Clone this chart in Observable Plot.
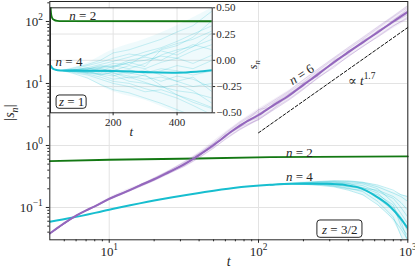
<!DOCTYPE html>
<html><head><meta charset="utf-8">
<script src="https://cdn.jsdelivr.net/npm/d3@7"></script>
<script src="https://cdn.jsdelivr.net/npm/@observablehq/plot@0.6"></script>
<style>
html,body{margin:0;padding:0;background:#fff;}
#wrap{position:relative;width:415px;height:270px;}
#wrap svg{position:absolute;left:0;top:0;}
</style></head><body><div id="wrap"></div>
<script>
// ---------- main panel data (z = 3/2) ----------
const n2T = [4, 10, 39, 120, 1000];
const n2V = [0.558, 0.588, 0.617, 0.648, 0.665];

const n4T = [4, 5.6, 10, 20, 39, 68, 120, 164, 289, 459, 625, 769, 897, 1000];
const n4V = [0.059, 0.068, 0.092, 0.13, 0.17, 0.207, 0.232, 0.241, 0.241, 0.213, 0.147, 0.101, 0.066, 0.046];

const n6T = [4,5,6,7,8,10,13,16,20,25,30,37,45,55,65,80,100,125,160,200,250,320,400,500,630,800,1000];
const n6V = [0.038,0.056,0.074,0.09,0.104,0.138,0.18,0.225,0.285,0.37,0.46,0.62,0.85,1.2,1.65,2.3,3.1,4.4,6.4,9.5,14,22,32,46,67,100,143];

// individual n=6 runs
const n6RunT = [4,6,8,10,13,16,20,25,32,40,50,60,75,100,125,160,200,250,320,400,500,630,800,1000];
const n6Runs = [
  [0.038,0.075,0.106,0.141,0.186,0.232,0.30,0.39,0.53,0.76,1.1,1.55,2.3,3.5,4.9,7.3,10.5,16,25,36,52,78,118,170],
  [0.038,0.073,0.102,0.134,0.174,0.215,0.27,0.35,0.47,0.64,0.92,1.25,1.8,2.7,3.9,5.6,8.3,12.2,19,27,40,56,84,118],
  [0.038,0.074,0.105,0.14,0.178,0.23,0.28,0.38,0.48,0.72,0.95,1.5,2.0,3.8,4.2,6.0,10.2,13,24,30,50,64,108,150],
  [0.038,0.074,0.103,0.136,0.183,0.22,0.29,0.36,0.52,0.67,1.05,1.35,2.2,2.8,4.7,6.9,9.0,15,21,34,44,72,95,135],
  [0.038,0.075,0.104,0.139,0.179,0.228,0.287,0.375,0.49,0.73,0.98,1.45,1.95,3.3,4.3,6.2,9.8,13.5,23,31,47,69,104,160],
  [0.038,0.073,0.105,0.137,0.181,0.222,0.283,0.365,0.51,0.68,1.02,1.38,2.15,2.95,4.6,6.6,9.3,14.6,21,33,45,70,97,128],
  [0.038,0.074,0.104,0.138,0.18,0.226,0.29,0.38,0.5,0.7,0.96,1.42,2.1,3.2,4.5,6.2,9.6,14.2,22.5,32,47,66,102,145],
  [0.038,0.074,0.104,0.138,0.18,0.225,0.285,0.37,0.5,0.69,1.0,1.4,2.0,2.6,3.8,6.8,10,15,22,33,48,70,100,138],
  [0.038,0.074,0.105,0.14,0.183,0.23,0.295,0.39,0.55,0.74,1.08,1.6,2.4,3.7,5.2,7.6,11.5,17,26,38,55,82,122,180],
  [0.038,0.073,0.103,0.135,0.176,0.218,0.275,0.355,0.46,0.63,0.9,1.28,1.85,2.6,3.7,5.4,8.0,12.5,18,28,39,58,86,112]
];
// spread envelope of the n=6 runs
const n6BandT = [8, 10, 20, 40, 60, 100, 160, 250, 400, 630, 1000];
const n6BandLo = [0.101, 0.132, 0.27, 0.62, 1.25, 2.5, 5.2, 11.5, 26, 54, 105];
const n6BandHi = [0.107, 0.145, 0.30, 0.78, 1.65, 3.9, 7.8, 17, 38, 82, 180];

// individual n=4 runs
const n4RunT = [120,160,200,250,320,400,500,630,800,900,1000];
const n4Runs = [
  [0.232,0.242,0.25,0.258,0.265,0.262,0.25,0.215,0.17,0.15,0.125],
  [0.232,0.24,0.236,0.228,0.215,0.19,0.16,0.11,0.065,0.045,0.03],
  [0.232,0.243,0.248,0.252,0.248,0.24,0.225,0.18,0.14,0.1,0.07],
  [0.232,0.241,0.24,0.236,0.225,0.205,0.18,0.125,0.07,0.035,0.02],
  [0.232,0.242,0.246,0.255,0.26,0.25,0.24,0.2,0.12,0.08,0.055],
  [0.232,0.24,0.238,0.232,0.235,0.215,0.2,0.14,0.09,0.06,0.028],
  [0.232,0.242,0.25,0.245,0.255,0.245,0.205,0.19,0.15,0.12,0.09],
  [0.232,0.24,0.237,0.24,0.22,0.2,0.19,0.16,0.11,0.05,0.035],
  [0.232,0.243,0.252,0.262,0.27,0.268,0.255,0.23,0.19,0.16,0.15],
  [0.232,0.241,0.243,0.24,0.232,0.222,0.21,0.17,0.1,0.07,0.04]
];
const n4BandT = [150, 250, 400, 630, 800, 1000];
const n4BandLo = [0.238, 0.225, 0.19, 0.11, 0.06, 0.02];
const n4BandHi = [0.245, 0.265, 0.268, 0.225, 0.18, 0.15];

// power-law guide  ∝ t^1.7
const guideT = [100, 1000];
const guideV = [1.6, 80];

// ---------- inset data (z = 1) ----------
const inN2T = [4, 6, 9, 15, 25, 40, 510];
const inN2V = [0.52, 0.44, 0.405, 0.385, 0.376, 0.373, 0.372];
const inN4T = [4, 10, 20, 35, 60, 100, 200, 300, 400, 460, 510];
const inN4V = [-0.05, -0.075, -0.09, -0.097, -0.099, -0.1, -0.102, -0.112, -0.118, -0.11, -0.095];
const inRunT = [40,80,120,160,200,250,300,350,400,450,510];
const inRuns = [
  [-0.097,-0.09,-0.07,-0.04,-0.01,0.03,0.08,0.12,0.18,0.25,0.33],
  [-0.097,-0.11,-0.13,-0.16,-0.2,-0.22,-0.27,-0.31,-0.36,-0.43,-0.52],
  [-0.097,-0.09,-0.08,-0.06,-0.07,-0.02,0.0,0.04,0.02,0.09,0.15],
  [-0.097,-0.105,-0.12,-0.13,-0.12,-0.15,-0.18,-0.16,-0.2,-0.25,-0.22],
  [-0.097,-0.07,-0.04,0.0,0.07,0.1,0.15,0.2,0.27,0.33,0.47],
  [-0.097,-0.13,-0.17,-0.23,-0.28,-0.31,-0.36,-0.41,-0.47,-0.53,-0.6],
  [-0.097,-0.1,-0.09,-0.08,-0.1,-0.05,-0.08,-0.02,0.02,-0.03,0.05],
  [-0.097,-0.1,-0.11,-0.13,-0.15,-0.1,-0.12,-0.08,-0.1,-0.14,-0.1],
  [-0.097,-0.09,-0.1,-0.07,-0.05,-0.08,-0.03,0.05,0.1,0.13,0.2],
  [-0.097,-0.11,-0.12,-0.1,-0.14,-0.2,-0.22,-0.25,-0.29,-0.31,-0.36],
  [-0.097,-0.095,-0.09,-0.12,-0.08,-0.12,-0.15,-0.2,-0.15,-0.18,-0.26],
  [-0.097,-0.09,-0.085,-0.05,-0.06,0.0,0.03,0.0,0.08,0.15,0.1],
  [-0.097,-0.1,-0.12,-0.14,-0.18,-0.16,-0.21,-0.26,-0.23,-0.29,-0.41],
  [-0.097,-0.09,-0.08,-0.07,-0.03,-0.04,0.05,0.09,0.05,0.13,0.26],
  [-0.097,-0.1,-0.11,-0.09,-0.12,-0.17,-0.14,-0.24,-0.33,-0.38,-0.45],
  [-0.097,-0.09,-0.07,-0.1,-0.06,-0.02,-0.06,0.1,0.14,0.22,0.38],
  [-0.097,-0.105,-0.1,-0.14,-0.11,-0.09,-0.13,-0.1,-0.05,-0.08,0.0],
  [-0.097,-0.095,-0.11,-0.08,-0.1,-0.13,-0.09,-0.14,-0.2,-0.16,-0.3],
  [-0.097,-0.08,-0.05,-0.02,0.02,0.06,0.04,0.11,0.16,0.2,0.28],
  [-0.097,-0.12,-0.14,-0.18,-0.22,-0.25,-0.3,-0.28,-0.33,-0.4,-0.46]
];
const inBandT = [40, 100, 200, 300, 400, 510];
const inBandLo = [-0.1, -0.15, -0.3, -0.38, -0.5, -0.6];
const inBandHi = [-0.09, -0.05, 0.1, 0.2, 0.33, 0.5];

// ---------- ticks & labels ----------
const mainXTicks = [10, 100, 1000];
const mainYTicks = [0.1, 1, 10, 100];
const mainXTickLabels = ["10^1", "10^2", "10^3"];
const mainYTickLabels = ["10^−1", "10^0", "10^1", "10^2"];
const insetXTicks = [200, 400];
const insetYTicks = [-0.5, -0.25, 0, 0.25, 0.5];

const mainLabels = [
  {t: 194, v: 14.0, text: "n = 6", rotate: -33},
  {t: 491, v: 11.2, text: "∝ t^1.7", rotate: 0},
  {t: 188, v: 0.77, text: "n = 2", rotate: 0},
  {t: 188, v: 0.31, text: "n = 4", rotate: 0},
  {t: 350, v: 0.0442, text: "z = 3/2", rotate: 0}
];
const mainBox = [{t1: 248, t2: 497, v1: 0.0324, v2: 0.0617}];
const insetLabels = [
  {t: 105, v: 0.42, text: "n = 2"},
  {t: 62, v: -0.011, text: "n = 4"},
  {t: 70, v: -0.399, text: "z = 1"}
];
const insetBox = [{t1: 23, t2: 117, v1: -0.462, v2: -0.335}];

// ---------- helpers ----------
const zip = (T, V) => T.map((t, i) => ({t, v: V[i]}));
const band = (T, L, H) => T.map((t, i) => ({t, lo: L[i], hi: H[i]}));
const runsRows = (T, R) => R.flatMap((vals, k) => vals.map((v, i) => ({t: T[i], v, run: k})));
const minor = [];
for (const d of [1, 10, 100]) for (let m = 2; m <= 9; m++) minor.push(m * d);
const minorY = [];
for (const d of [0.01, 0.1, 1, 10, 100]) for (let m = 2; m <= 9; m++) { const v = +(m * d).toPrecision(3); if (v > 0.0301 && v < 210) minorY.push(v); }
const minorX = minor.filter(v => v > 4 && v < 1000);

const PURPLE = "#9467bd", CYAN = "#17becf", GREEN = "#137813", INK = "#262626", GRID = "#e3e3e3";
const FONT = "'Liberation Serif', 'DejaVu Serif', serif";

const main = Plot.plot({
  width: 415, height: 270,
  marginLeft: 49.3, marginRight: 7.7, marginTop: 1, marginBottom: 30.7,
  style: {fontFamily: FONT, background: "transparent", color: INK},
  x: {type: "log", domain: [4, 1000], label: null},
  y: {type: "log", domain: [0.0301, 210], label: null},
  marks: [
    Plot.gridX(mainXTicks, {stroke: GRID, strokeOpacity: 1}),
    Plot.gridY(mainYTicks, {stroke: GRID, strokeOpacity: 1}),
    Plot.line(zip(n2T, n2V), {x: "t", y: "v", stroke: GREEN, strokeWidth: 1.8}),
    Plot.areaY(band(n4BandT, n4BandLo, n4BandHi), {x: "t", y1: "lo", y2: "hi", fill: CYAN, fillOpacity: 0.1, curve: "monotone-x", clip: true}),
    Plot.line(runsRows(n4RunT, n4Runs), {x: "t", y: "v", z: "run", stroke: CYAN, strokeOpacity: 0.4, strokeWidth: 0.7, clip: true}),
    Plot.line(zip(n4T, n4V), {x: "t", y: "v", stroke: CYAN, strokeWidth: 2, curve: "monotone-x", clip: true}),
    Plot.areaY(band(n6BandT, n6BandLo, n6BandHi), {x: "t", y1: "lo", y2: "hi", fill: PURPLE, fillOpacity: 0.1, curve: "monotone-x", clip: true}),
    Plot.line(runsRows(n6RunT, n6Runs), {x: "t", y: "v", z: "run", stroke: PURPLE, strokeOpacity: 0.3, strokeWidth: 0.7, clip: true}),
    Plot.line(zip(n6T, n6V), {x: "t", y: "v", stroke: PURPLE, strokeWidth: 2, curve: "monotone-x", clip: true}),
    Plot.line(zip(guideT, guideV), {x: "t", y: "v", stroke: "#111", strokeWidth: 1, strokeDasharray: "3,2"}),
    Plot.rect(mainBox, {x1: "t1", x2: "t2", y1: "v1", y2: "v2", rx: 3, fill: "white", stroke: INK, strokeWidth: 1}),
    Plot.text(mainLabels, {x: "t", y: "v", text: "text", rotate: "rotate", fontSize: 13, fill: INK}),
    Plot.frame({stroke: INK, strokeWidth: 1}),
    Plot.axisX(minorX, {tickSize: 2, tickFormat: () => "", label: null, stroke: INK}),
    Plot.axisY(minorY, {tickSize: 2, tickFormat: () => "", label: null, stroke: INK}),
    Plot.axisX(mainXTicks, {tickSize: 3.5, tickPadding: 3, fontSize: 13, label: null, stroke: INK, fill: INK,
      tickFormat: d => mainXTickLabels[mainXTicks.indexOf(d)]}),
    Plot.axisY(mainYTicks, {tickSize: 3.5, tickPadding: 3.5, fontSize: 13, label: null, stroke: INK, fill: INK,
      tickFormat: d => mainYTickLabels[mainYTicks.indexOf(d)]}),
    Plot.text(["t"], {frameAnchor: "bottom", dy: 25.7, fontSize: 14, fill: INK}),
    Plot.text(["|s_n|"], {frameAnchor: "left", dx: -40, rotate: -90, fontSize: 14, fill: INK})
  ]
});

const inset = Plot.plot({
  width: 415, height: 270,
  marginLeft: 50, marginRight: 203.3, marginTop: 7.3, marginBottom: 157.7,
  style: {fontFamily: FONT, background: "transparent", color: INK},
  x: {domain: [4, 510], label: null},
  y: {domain: [-0.5, 0.5], label: null},
  marks: [
    Plot.frame({fill: "white", stroke: null}),
    Plot.gridX(insetXTicks, {stroke: GRID, strokeOpacity: 1}),
    Plot.gridY([-0.25, 0, 0.25], {stroke: GRID, strokeOpacity: 1}),
    Plot.areaY(band(inBandT, inBandLo, inBandHi), {x: "t", y1: "lo", y2: "hi", fill: CYAN, fillOpacity: 0.07, curve: "monotone-x", clip: true}),
    Plot.line(runsRows(inRunT, inRuns), {x: "t", y: "v", z: "run", stroke: CYAN, strokeOpacity: 0.3, strokeWidth: 0.7, clip: true}),
    Plot.line(zip(inN4T, inN4V), {x: "t", y: "v", stroke: CYAN, strokeWidth: 2, curve: "monotone-x", clip: true}),
    Plot.line(zip(inN2T, inN2V), {x: "t", y: "v", stroke: GREEN, strokeWidth: 1.8, curve: "monotone-x", clip: true}),
    Plot.rect(insetBox, {x1: "t1", x2: "t2", y1: "v1", y2: "v2", rx: 3, fill: "white", stroke: INK, strokeWidth: 1}),
    Plot.text(insetLabels, {x: "t", y: "v", text: "text", fontSize: 13, fill: INK}),
    Plot.frame({stroke: INK, strokeWidth: 1}),
    Plot.axisX(insetXTicks, {tickSize: 3, tickPadding: 2, fontSize: 11, label: null, stroke: INK, fill: INK}),
    Plot.axisY(insetYTicks, {anchor: "right", tickSize: 2.5, tickPadding: 1.5, fontSize: 11, label: null, stroke: INK, fill: INK,
      tickFormat: d3.format(".2f")}),
    Plot.text(["t"], {frameAnchor: "bottom", dy: 22.7, fontSize: 13, fill: INK}),
    Plot.text(["s_n"], {frameAnchor: "right", dx: 40.5, rotate: -90, fontSize: 12, fill: INK})
  ]
});

// math-style text: italic single letters, ^superscripts, _subscripts
function mathify(svg) {
  const NS = "http://www.w3.org/2000/svg";
  svg.querySelectorAll("text").forEach(el => {
    const s = el.textContent;
    if (!(/[=∝^_]/.test(s) || s === "t")) return;
    const fs = parseFloat(getComputedStyle(el).fontSize) || 13;
    while (el.firstChild) el.removeChild(el.firstChild);
    const re = /\^([^|]+)|_(.)|([A-Za-z])|([^A-Za-z^_]+)/g;
    let m, cur = 0;
    while ((m = re.exec(s))) {
      const ts = document.createElementNS(NS, "tspan");
      let target = 0;
      if (m[1] !== undefined) { ts.textContent = m[1]; ts.setAttribute("font-size", (fs * 0.72).toFixed(2)); target = -0.4 * fs; }
      else if (m[2] !== undefined) { ts.textContent = m[2]; ts.setAttribute("font-size", (fs * 0.72).toFixed(2)); ts.setAttribute("font-style", "italic"); target = 0.25 * fs; }
      else if (m[3] !== undefined) { ts.textContent = m[3]; ts.setAttribute("font-style", "italic"); }
      else { ts.textContent = m[4]; }
      if (target !== cur) { ts.setAttribute("dy", (target - cur).toFixed(2)); cur = target; }
      el.appendChild(ts);
    }
  });
}

const wrap = document.getElementById("wrap");
wrap.appendChild(main);
wrap.appendChild(inset);
mathify(main);
mathify(inset);
</script>
</body></html>
